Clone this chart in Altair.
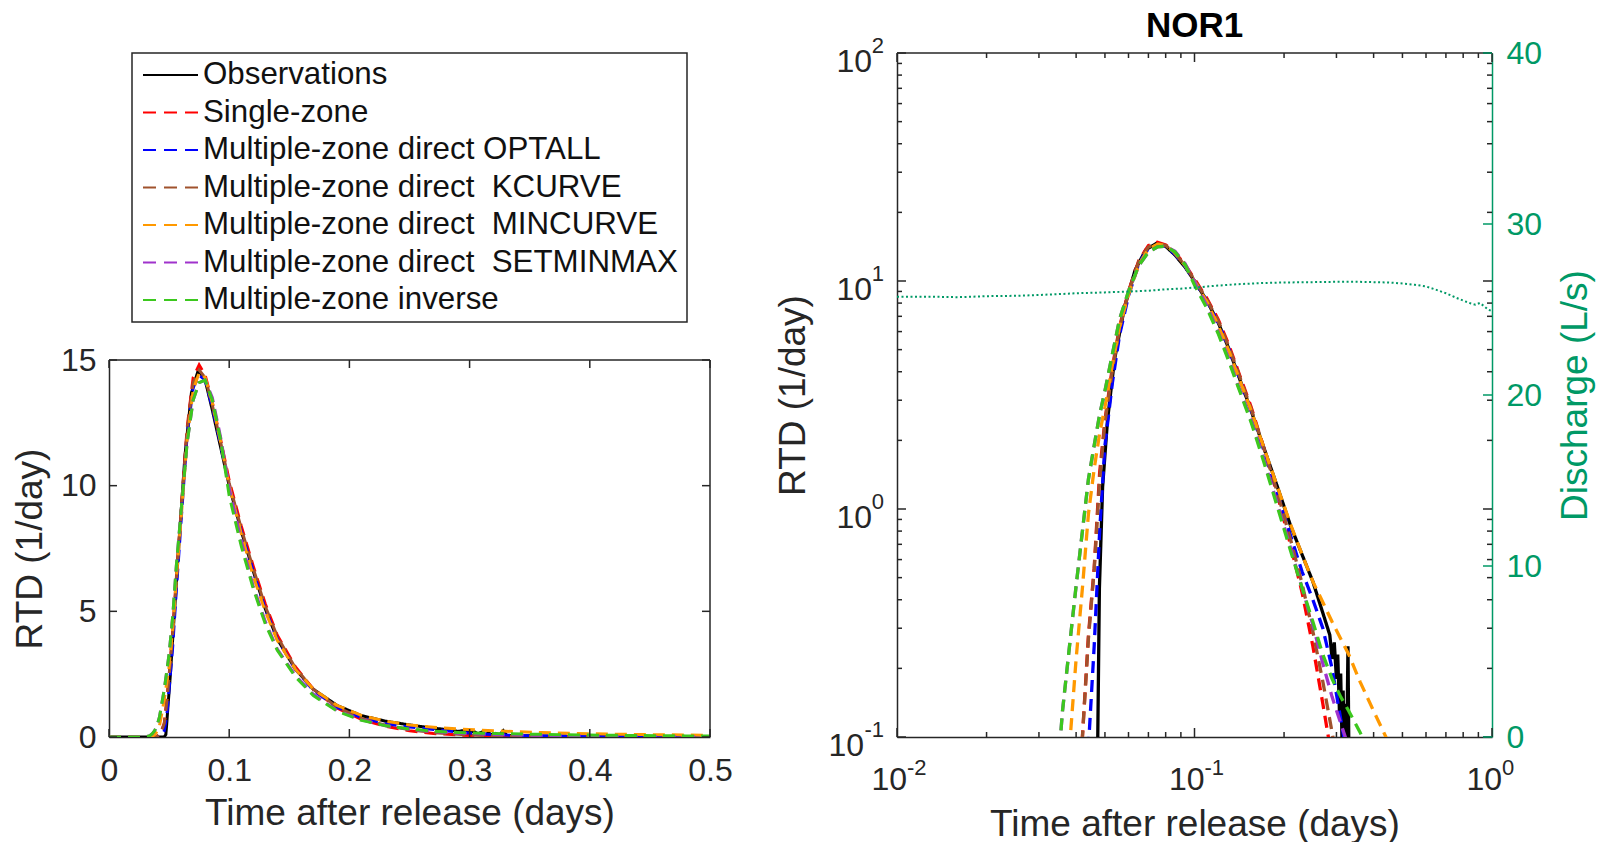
import altair as alt
import pandas as pd

FONT = "Liberation Sans, Arial, sans-serif"
INK = "#262626"
GREEN_Q = "#009966"

# ---------------- data ----------------
panel_title = "NOR1"
names = [
    "Observations",
    "Single-zone",
    "Multiple-zone direct OPTALL",
    "Multiple-zone direct\u00a0 KCURVE",
    "Multiple-zone direct\u00a0 MINCURVE",
    "Multiple-zone direct\u00a0 SETMINMAX",
    "Multiple-zone inverse",
]
colors = ["#000000", "#FF0000", "#0000FF", "#A0522D", "#FF9900", "#A033CC", "#3CC81E"]
dashes = [[1, 0], [12, 7], [12, 7], [12, 7], [12, 7], [12, 7], [12, 7]]
legend_dashes = [[1, 0], [13, 8], [13, 8], [13, 8], [13, 8], [13, 8], [13, 8]]

t_obs = [0.000, 0.020, 0.040, 0.046, 0.0473, 0.0479, 0.0491, 0.0510, 0.0538, 0.0582,
         0.0632, 0.0686, 0.0743, 0.080, 0.086, 0.093, 0.100, 0.110, 0.120, 0.130,
         0.140, 0.155, 0.170, 0.190, 0.210, 0.230, 0.250, 0.270, 0.285, 0.290,
         0.295, 0.300, 0.303, 0.307, 0.310, 0.313, 0.316, 0.319, 0.322, 0.325,
         0.328, 0.331, 0.340, 0.360, 0.400, 0.450, 0.500]
v_obs = [0, 0, 0, 0, 0.10, 0.45, 1.25, 2.45, 4.5, 7.7,
         11.2, 13.7, 14.6, 14.2, 13.0, 11.5, 10.0, 8.2, 6.6, 5.1,
         3.9, 2.7, 1.9, 1.25, 0.85, 0.63, 0.48, 0.35, 0.28, 0.22,
         0.26, 0.18, 0.23, 0.13, 0.19, 0.10, 0.16, 0.07, 0.14, 0.09,
         0.25, 0.06, 0.05, 0.04, 0.03, 0.02, 0.015]

t_mod = [0.000, 0.030, 0.034, 0.036, 0.038, 0.040, 0.042, 0.044, 0.046, 0.048,
         0.050, 0.053, 0.056, 0.060, 0.065, 0.070, 0.075, 0.080, 0.086, 0.093,
         0.100, 0.110, 0.120, 0.130, 0.140, 0.155, 0.170, 0.190, 0.210, 0.230,
         0.250, 0.270, 0.290, 0.310, 0.330, 0.360, 0.400, 0.440, 0.480, 0.500]
v_single = [0, 0, 0, 0, 0, 0.03, 0.10, 0.28, 0.55, 1.45,
            2.45, 4.2, 6.3, 9.0, 12.3, 14.3, 14.8, 14.4, 13.3, 11.8,
            10.2, 8.4, 6.8, 5.3, 4.05, 2.8, 1.9, 1.15, 0.70, 0.43,
            0.25, 0.14, 0.08, 0.045, 0.025, 0.012, 0.005, 0.002, 0.001, 0.001]
v_optall = [0, 0, 0, 0, 0, 0.005, 0.02, 0.09, 0.25, 0.8,
            1.9, 3.6, 5.8, 8.6, 12.0, 13.9, 14.4, 14.2, 13.1, 11.6,
            10.0, 8.2, 6.6, 5.1, 3.9, 2.7, 1.85, 1.18, 0.77, 0.53,
            0.40, 0.30, 0.20, 0.12, 0.075, 0.04, 0.018, 0.008, 0.004, 0.003]
v_kcurve = [0, 0, 0, 0, 0, 0.03, 0.10, 0.27, 0.54, 1.35,
            2.4, 4.1, 6.2, 8.9, 12.2, 14.1, 14.6, 14.3, 13.2, 11.7,
            10.1, 8.3, 6.7, 5.2, 4.0, 2.75, 1.9, 1.18, 0.74, 0.47,
            0.29, 0.175, 0.105, 0.062, 0.036, 0.017, 0.006, 0.002, 0.001, 0.001]
v_mincurve = [0, 0, 0.005, 0.03, 0.09, 0.22, 0.45, 0.95, 1.5, 2.15,
              2.8, 4.3, 6.3, 8.7, 11.8, 13.8, 14.5, 14.3, 13.3, 11.7,
              10.0, 8.1, 6.4, 5.0, 3.85, 2.7, 1.9, 1.25, 0.86, 0.63,
              0.48, 0.39, 0.32, 0.27, 0.23, 0.175, 0.13, 0.10, 0.08, 0.072]
v_setminmax = [0, 0.005, 0.05, 0.13, 0.25, 0.46, 0.80, 1.35, 1.9, 2.6,
               3.3, 4.8, 6.8, 9.0, 11.7, 13.4, 14.1, 14.2, 13.5, 11.9,
               9.9, 7.8, 6.0, 4.6, 3.5, 2.45, 1.7, 1.05, 0.68, 0.45,
               0.31, 0.21, 0.15, 0.115, 0.09, 0.065, 0.042, 0.028, 0.018, 0.015]
v_inverse = [0, 0.005, 0.05, 0.13, 0.25, 0.46, 0.80, 1.35, 1.9, 2.6,
             3.3, 4.8, 6.8, 9.0, 11.7, 13.4, 14.1, 14.2, 13.4, 11.8,
             9.6, 7.6, 5.9, 4.5, 3.45, 2.4, 1.65, 1.02, 0.66, 0.45,
             0.32, 0.23, 0.18, 0.15, 0.13, 0.105, 0.078, 0.058, 0.044, 0.038]

t_q = [0.010, 0.013, 0.016, 0.020, 0.025, 0.030, 0.035, 0.040, 0.050, 0.060,
       0.070, 0.080, 0.090, 0.100, 0.120, 0.140, 0.170, 0.200, 0.250, 0.300,
       0.350, 0.400, 0.450, 0.500, 0.550, 0.600, 0.650, 0.700, 0.750, 0.800,
       0.850, 0.880, 0.910, 0.940, 0.970, 1.000]
q = [25.75, 25.75, 25.72, 25.78, 25.80, 25.85, 25.90, 25.95, 26.00, 26.05,
     26.10, 26.18, 26.22, 26.28, 26.40, 26.48, 26.55, 26.58, 26.60, 26.62,
     26.62, 26.60, 26.58, 26.52, 26.45, 26.35, 26.15, 25.95, 25.72, 25.52,
     25.35, 25.28, 25.38, 25.20, 25.00, 24.90]

lin_x_ticks = [0, 0.1, 0.2, 0.3, 0.4, 0.5]
lin_y_ticks = [0, 5, 10, 15]
log_x_major = [0.01, 0.1, 1]
log_x_minor = [0.02, 0.03, 0.04, 0.05, 0.06, 0.07, 0.08, 0.09,
               0.2, 0.3, 0.4, 0.5, 0.6, 0.7, 0.8, 0.9]
log_x_exp = ["-2", "-1", "0"]
log_y_major = [0.1, 1, 10, 100]
log_y_minor = [0.2, 0.3, 0.4, 0.5, 0.6, 0.7, 0.8, 0.9,
               2, 3, 4, 5, 6, 7, 8, 9,
               20, 30, 40, 50, 60, 70, 80, 90]
log_y_exp = ["-1", "0", "1", "2"]
q_ticks = [0, 10, 20, 30, 40]

# ---------------- tables ----------------
rows = [dict(name=names[0], t=t, v=v) for t, v in zip(t_obs, v_obs)]
model_vals = [v_single, v_optall, v_kcurve, v_mincurve, v_setminmax, v_inverse]
for nm, vals in zip(names[1:], model_vals):
    rows += [dict(name=nm, t=t, v=v) for t, v in zip(t_mod, vals)]
df = pd.DataFrame(rows)
df_log = df[df.v > 0].reset_index(drop=True)
df_q = pd.DataFrame({"t": t_q, "q": q})
df_names = pd.DataFrame({"name": names})

# ---------------- geometry ----------------
W1, W2, H = 601, 595, 684
H1 = 377
YT1 = H - H1

common_axis = dict(grid=False, domainColor=INK, domainWidth=1.5, labelColor=INK,
                   titleColor=INK, labelFont=FONT, titleFont=FONT,
                   titleFontWeight="normal", labelFlush=False, labelOverlap=False,
                   ticks=False, tickSize=0)

AX_XL = alt.Axis(values=lin_x_ticks,
                 labelExpr="datum.value == 0 ? '0' : format(datum.value, '.1f')",
                 labelFontSize=32, labelPadding=18,
                 title="Time after release (days)", titleFontSize=37, titlePadding=9,
                 **common_axis)
AX_YL = alt.Axis(values=lin_y_ticks, format="d", labelFontSize=32, labelPadding=13,
                 title="RTD (1/day)", titleFontSize=37, titlePadding=11,
                 **common_axis)


def XL(f="t"):
    return alt.X(f + ":Q", scale=alt.Scale(domain=[0, 0.5], nice=False, zero=False), axis=AX_XL)


def YL(f="v"):
    return alt.Y(f + ":Q", scale=alt.Scale(domain=[0, 15], range=[H, YT1], nice=False, zero=False),
                 axis=AX_YL)


# ---------------- left panel ----------------
left_layers = []
for nm, col, dash in zip(names, colors, dashes):
    left_layers.append(
        alt.Chart(df).transform_filter(alt.datum.name == nm)
        .mark_line(clip=True, strokeWidth=3, strokeDash=dash, color=col)
        .encode(x=XL(), y=YL())
    )

tk = dict(color=INK, strokeWidth=1.5)
left_layers += [
    alt.Chart(pd.DataFrame({"t": lin_x_ticks, "v": 0})).mark_rule(**tk)
    .encode(x=XL(), y=YL(), y2=alt.value(H - 8)),
    alt.Chart(pd.DataFrame({"t": lin_x_ticks, "v": 15})).mark_rule(**tk)
    .encode(x=XL(), y=YL(), y2=alt.value(YT1 + 8)),
    alt.Chart(pd.DataFrame({"t": 0, "v": lin_y_ticks})).mark_rule(**tk)
    .encode(x=XL(), x2=alt.value(8), y=YL()),
    alt.Chart(pd.DataFrame({"t": 0.5, "v": lin_y_ticks})).mark_rule(**tk)
    .encode(x=XL(), x2=alt.value(W1 - 8), y=YL()),
    alt.Chart(pd.DataFrame({"t": [0], "t2": [0.5], "v": [15]})).mark_rule(**tk)
    .encode(x=XL(), x2="t2:Q", y=YL()),
    alt.Chart(pd.DataFrame({"t": [0.5], "v": [0], "v2": [15]})).mark_rule(**tk)
    .encode(x=XL(), y=YL(), y2="v2:Q"),
]
groupA = alt.layer(*left_layers)

leg_y = alt.Y("name:N", scale=alt.Scale(type="point", domain=names, range=[22, 247], padding=0),
              axis=None)
leg_box = alt.Chart(pd.DataFrame({"k": [1]})).mark_rect(
    fill="white", stroke=INK, strokeWidth=1.5
).encode(x=alt.value(23), x2=alt.value(578), y=alt.value(0), y2=alt.value(269))
leg_lines = alt.Chart(df_names).mark_rule(strokeWidth=2.2).encode(
    x=alt.value(34), x2=alt.value(89), y=leg_y,
    color=alt.Color("name:N", scale=alt.Scale(domain=names, range=colors), legend=None),
    strokeDash=alt.StrokeDash("name:N", scale=alt.Scale(domain=names, range=legend_dashes),
                              legend=None),
)
leg_text = alt.Chart(df_names).mark_text(
    align="left", baseline="middle", fontSize=31.3, font=FONT, color="#111111"
).encode(x=alt.value(94), y=leg_y, text="name:N")
groupB = alt.layer(leg_box, leg_lines, leg_text)

left = alt.layer(groupA, groupB).resolve_scale(y="independent").properties(width=W1, height=H)

# ---------------- right panel ----------------
AX_XG = alt.Axis(values=log_x_major, labels=False,
                 title="Time after release (days)", titleFontSize=37, titlePadding=69,
                 **common_axis)
AX_YG = alt.Axis(values=log_y_major, labels=False,
                 title="RTD (1/day)", titleFontSize=37, titlePadding=85,
                 **common_axis)
AX_Q = alt.Axis(orient="right", values=q_ticks, labelFontSize=32, labelPadding=14,
                title="Discharge (L/s)", titleFontSize=37, titlePadding=16,
                titleAngle=270, titleBaseline="top",
                grid=False, domainColor=GREEN_Q, domainWidth=1.5, labelColor=GREEN_Q,
                titleColor=GREEN_Q, labelFont=FONT, titleFont=FONT,
                titleFontWeight="normal", labelFlush=False, labelOverlap=False,
                ticks=False, tickSize=0)


def XG(f="t"):
    return alt.X(f + ":Q", scale=alt.Scale(type="log", domain=[0.01, 1], nice=False), axis=AX_XG)


def YG(f="v"):
    return alt.Y(f + ":Q", scale=alt.Scale(type="log", domain=[0.1, 100], nice=False), axis=AX_YG)


YQ = alt.Y("q:Q", scale=alt.Scale(domain=[0, 40], nice=False, zero=False), axis=AX_Q)

right_layers = []
for nm, col, dash in zip(names, colors, dashes):
    right_layers.append(
        alt.Chart(df_log).transform_filter(alt.datum.name == nm)
        .mark_line(clip=True, strokeWidth=3.3, strokeDash=dash, color=col)
        .encode(x=XG(), y=YG())
    )

df_xmaj_b = pd.DataFrame({"t": log_x_major, "v": 0.1})
df_xmin_b = pd.DataFrame({"t": log_x_minor, "v": 0.1})
df_xmaj_t = pd.DataFrame({"t": log_x_major, "v": 100})
df_xmin_t = pd.DataFrame({"t": log_x_minor, "v": 100})
df_ymaj_l = pd.DataFrame({"t": 0.01, "v": log_y_major})
df_ymin_l = pd.DataFrame({"t": 0.01, "v": log_y_minor})
df_ymaj_r = pd.DataFrame({"t": 1, "v": log_y_major})
df_ymin_r = pd.DataFrame({"t": 1, "v": log_y_minor})

right_layers += [
    alt.Chart(df_xmaj_b).mark_rule(**tk).encode(x=XG(), y=YG(), y2=alt.value(H - 9)),
    alt.Chart(df_xmin_b).mark_rule(**tk).encode(x=XG(), y=YG(), y2=alt.value(H - 5)),
    alt.Chart(df_xmaj_t).mark_rule(**tk).encode(x=XG(), y=YG(), y2=alt.value(9)),
    alt.Chart(df_xmin_t).mark_rule(**tk).encode(x=XG(), y=YG(), y2=alt.value(5)),
    alt.Chart(df_ymaj_l).mark_rule(**tk).encode(x=XG(), x2=alt.value(9), y=YG()),
    alt.Chart(df_ymin_l).mark_rule(**tk).encode(x=XG(), x2=alt.value(5), y=YG()),
    alt.Chart(df_ymaj_r).mark_rule(**tk).encode(x=XG(), x2=alt.value(W2 - 9), y=YG()),
    alt.Chart(df_ymin_r).mark_rule(**tk).encode(x=XG(), x2=alt.value(W2 - 5), y=YG()),
    alt.Chart(pd.DataFrame({"t": [0.01], "t2": [1], "v": [100]})).mark_rule(**tk)
    .encode(x=XG(), x2="t2:Q", y=YG()),
]

# log tick labels: "10" with a raised exponent
df_xlab = pd.DataFrame({"t": log_x_major, "e": log_x_exp})
df_ylab = pd.DataFrame({"v": log_y_major, "e": log_y_exp})
right_layers += [
    alt.Chart(df_xlab).mark_text(text="10", align="right", baseline="alphabetic", dx=10,
                                 fontSize=32, font=FONT, color=INK)
    .encode(x=XG(), y=alt.value(H + 53)),
    alt.Chart(df_xlab).mark_text(align="left", baseline="alphabetic", dx=10,
                                 fontSize=22, font=FONT, color=INK)
    .encode(x=XG(), y=alt.value(H + 38), text="e:N"),
    alt.Chart(df_ylab).mark_text(align="right", baseline="alphabetic",
                                 fontSize=22, font=FONT, color=INK)
    .encode(x=alt.value(-13), y=YG(), text="e:N"),
    alt.Chart(df_ylab).transform_filter(alt.datum.v >= 1)
    .mark_text(text="10", align="right", baseline="alphabetic", dy=19,
               fontSize=32, font=FONT, color=INK)
    .encode(x=alt.value(-25), y=YG()),
    alt.Chart(df_ylab).transform_filter(alt.datum.v < 1)
    .mark_text(text="10", align="right", baseline="alphabetic", dy=19,
               fontSize=32, font=FONT, color=INK)
    .encode(x=alt.value(-33), y=YG()),
    # panel title
    alt.Chart(pd.DataFrame({"title": [panel_title]})).mark_text(
        align="center", baseline="alphabetic", fontSize=35, fontWeight="bold",
        font=FONT, color="#000000"
    ).encode(x=alt.value(W2 / 2), y=alt.value(-16), text="title:N"),
]
rtd_group = alt.layer(*right_layers)

q_group = alt.layer(
    alt.Chart(df_q).mark_line(clip=True, strokeDash=[2, 2.5], strokeWidth=2, color=GREEN_Q)
    .encode(x=XG(), y=YQ),
    alt.Chart(pd.DataFrame({"t": 1, "q": q_ticks})).mark_rule(color=GREEN_Q, strokeWidth=1.5)
    .encode(x=XG(), x2=alt.value(W2 - 9), y=YQ),
)

right = alt.layer(rtd_group, q_group).resolve_scale(y="independent").properties(
    width=W2, height=H,
)

chart = alt.hconcat(left, right, spacing=187, bounds="flush").properties(
    padding={"left": 11, "top": 9, "right": 4, "bottom": 0},
    background="white",
).configure_view(stroke=None)

chart.save("out.html", embed_options={"renderer": "svg", "actions": False})
